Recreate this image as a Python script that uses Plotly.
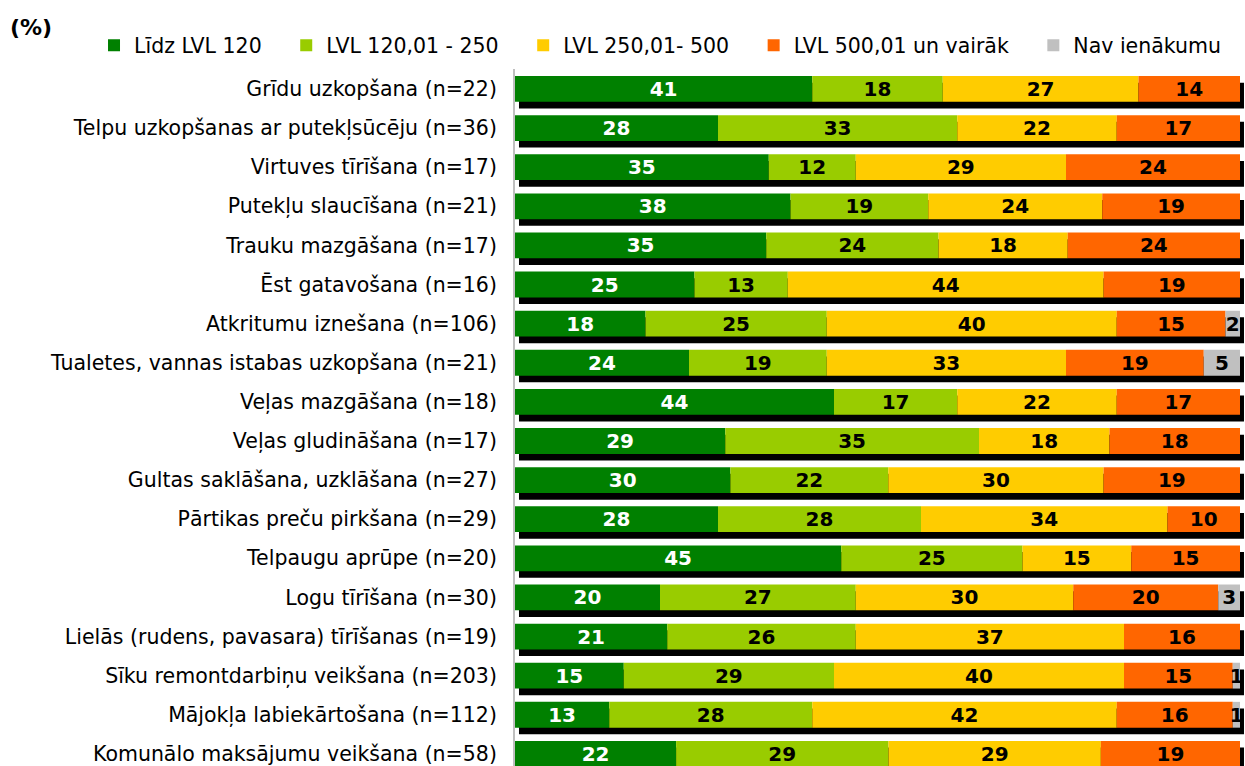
import plotly.graph_objects as go

categories = [
    "Grīdu uzkopšana (n=22)",
    "Telpu uzkopšanas ar putekļsūcēju (n=36)",
    "Virtuves tīrīšana (n=17)",
    "Putekļu slaucīšana (n=21)",
    "Trauku mazgāšana (n=17)",
    "Ēst gatavošana (n=16)",
    "Atkritumu iznešana (n=106)",
    "Tualetes, vannas istabas uzkopšana (n=21)",
    "Veļas mazgāšana (n=18)",
    "Veļas gludināšana (n=17)",
    "Gultas saklāšana, uzklāšana (n=27)",
    "Pārtikas preču pirkšana (n=29)",
    "Telpaugu aprūpe (n=20)",
    "Logu tīrīšana (n=30)",
    "Lielās (rudens, pavasara) tīrīšanas (n=19)",
    "Sīku remontdarbiņu veikšana (n=203)",
    "Mājokļa labiekārtošana (n=112)",
    "Komunālo maksājumu veikšana (n=58)",
]

series_names = ["Līdz LVL 120", "LVL 120,01 - 250", "LVL 250,01- 500",
                "LVL 500,01 un vairāk", "Nav ienākumu"]

lidz_120 = [41, 28, 35, 38, 35, 25, 18, 24, 44, 29, 30, 28, 45, 20, 21, 15, 13, 22]
lvl_120_250 = [18, 33, 12, 19, 24, 13, 25, 19, 17, 35, 22, 28, 25, 27, 26, 29, 28, 29]
lvl_250_500 = [27, 22, 29, 24, 18, 44, 40, 33, 22, 18, 30, 34, 15, 30, 37, 40, 42, 29]
lvl_500_plus = [14, 17, 24, 19, 24, 19, 15, 19, 17, 18, 19, 10, 15, 20, 16, 15, 16, 19]
nav_ienakumu = [0, 0, 0, 0, 0, 0, 2, 5, 0, 0, 0, 0, 0, 3, 0, 1, 1, 0]

series_values = [lidz_120, lvl_120_250, lvl_250_500, lvl_500_plus, nav_ienakumu]
colors = ["#008000", "#99CC00", "#FFCC00", "#FF6600", "#C0C0C0"]
text_colors = ["white", "black", "black", "black", "black"]

LABEL_FONT = "'DejaVu Sans', Verdana, sans-serif"
NBSP = "\u00a0"

totals = [sum(v) for v in zip(*series_values)]
ypos = list(range(len(categories)))

BAR_W = 0.66
SH_DY = 0.17
SH_DX = 0.55

fig = go.Figure()

# 3D-like shadow behind each full (100%) bar
fig.add_trace(go.Bar(
    y=ypos, x=[100] * len(categories), base=[SH_DX] * len(categories),
    orientation="h", width=BAR_W, offset=-BAR_W / 2 + SH_DY,
    marker=dict(color="black", line=dict(width=0)),
    showlegend=False, hoverinfo="skip",
))

cum = [0.0] * len(categories)
n_series = len(series_names)
for i, (name, vals, col, tcol) in enumerate(zip(series_names, series_values, colors, text_colors)):
    shares = [v / t * 100 for v, t in zip(vals, totals)]
    pad = NBSP * 3 if i < n_series - 1 else ""
    fig.add_trace(go.Bar(
        y=ypos, x=shares, base=list(cum), name=name + pad, orientation="h",
        width=BAR_W, offset=-BAR_W / 2,
        marker=dict(color=col, line=dict(width=0)),
        text=[str(v) if v else "" for v in vals],
        textposition="inside", insidetextanchor="middle",
        textangle=0, constraintext="none",
        textfont=dict(family=LABEL_FONT, size=20, color=tcol, weight="bold"),
        hovertemplate="%{y}: %{text}<extra>" + name + "</extra>",
    ))
    cum = [c + s for c, s in zip(cum, shares)]

fig.update_layout(
    width=1245, height=766,
    margin=dict(l=515, r=0, t=69, b=0),
    barmode="overlay",
    plot_bgcolor="white", paper_bgcolor="white",
    font=dict(family=LABEL_FONT, size=20.5, color="black"),
    showlegend=True,
    legend=dict(orientation="h", x=-0.5767, xanchor="left", y=1.034, yanchor="middle",
                font=dict(family=LABEL_FONT, size=20.5), traceorder="normal",
                itemwidth=30, bgcolor="rgba(0,0,0,0)"),
    xaxis=dict(range=[0, 100.69], showgrid=False, zeroline=False,
               showticklabels=False, showline=False, fixedrange=True),
    yaxis=dict(range=[17.31, -0.51], tickmode="array", tickvals=ypos,
               ticktext=categories, showgrid=False, zeroline=False,
               showline=True, linecolor="#BFBFBF", linewidth=2,
               ticks="", ticklabelstandoff=12, ticklabeloverflow="allow",
               fixedrange=True),
    annotations=[dict(text="<b>(%)</b>", xref="paper", yref="paper",
                      x=-0.694, y=1.06, xanchor="left", yanchor="middle",
                      showarrow=False, font=dict(size=22, family=LABEL_FONT))],
)

fig.write_html("out.html", config={"displayModeBar": False},
               post_script="document.body.style.margin='0';document.body.style.overflow='hidden';")
